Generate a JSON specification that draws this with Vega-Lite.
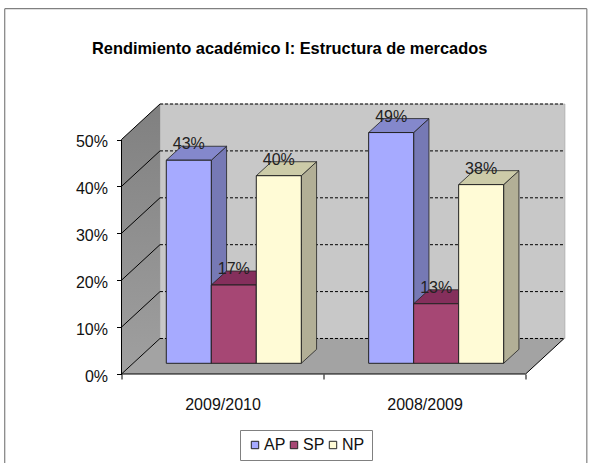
{
"$schema":"https://vega.github.io/schema/vega-lite/v6.json",
"width":443.5,"height":270,
"autosize":"none",
"padding":{"left":121.5,"top":104,"right":29,"bottom":89},
"background":"white",
"config":{"font":"Liberation Sans","view":{"stroke":null}},
"title":{"text":"Rendimiento académico I: Estructura de mercados","anchor":"start","frame":"group","dx":-29.5,"offset":-49,"fontSize":16.4,"fontWeight":"bold","color":"black","font":"Liberation Sans"},
"datasets":{
"bars":[
{"year":"2009/2010","series":"AP","value":43.3},
{"year":"2009/2010","series":"SP","value":16.7},
{"year":"2009/2010","series":"NP","value":40.0},
{"year":"2008/2009","series":"AP","value":49.2},
{"year":"2008/2009","series":"SP","value":12.7},
{"year":"2008/2009","series":"NP","value":38.1}
],
"ticks":[{"v":0},{"v":10},{"v":20},{"v":30},{"v":40},{"v":50}],
"depth":[{"k":0},{"k":1}],
"one":[{"o":1}]
},
"resolve":{"scale":{"color":"independent"},"axis":{"x":"independent","y":"independent"}},
"layer":[
{"data":{"name":"one"},"mark":{"type":"rect","color":"#C8C8C8","stroke":"#999999","strokeWidth":0.5},
"encoding":{
"x":{"datum":0.1905,"type":"quantitative","scale":{"domain":[0,2.195]},"axis":{"values":[0,0.5,1,1.5,2],"title":null,"grid":false,"domain":false,"tickSize":5,"tickColor":"black","tickOpacity":{"condition":{"test":"datum.value%1==0","value":1},"value":0},"labelExpr":"datum.value==0.5?'2009/2010':(datum.value==1.5?'2008/2009':'')","labelFontSize":16,"labelColor":"#111111","labelPadding":17,"labelOverlap":false,"labelFlush":false,"labelBound":false}},
"x2":{"datum":2.195},
"y":{"datum":7.57,"type":"quantitative","scale":{"domain":[0,57.57]},"axis":{"values":[0,10,20,30,40,50],"title":null,"grid":false,"domain":false,"tickSize":5,"tickColor":"black","labelExpr":"datum.value+'%'","labelFontSize":16,"labelColor":"#111111","labelPadding":9,"labelOffset":2,"labelOverlap":false,"labelBound":false,"labelFlush":false}},
"y2":{"datum":57.57}}},
{"data":{"name":"depth"},"transform":[{"calculate":"datum.k*0.1905","as":"x"},{"calculate":"datum.k*7.57","as":"y"},{"calculate":"datum.y+50","as":"y2"}],
"mark":{"type":"area","orient":"vertical","color":{"gradient":"linear","x1":0,"y1":0,"x2":0,"y2":1,"stops":[{"offset":0,"color":"#808080"},{"offset":1,"color":"#A0A0A0"}]}},
"encoding":{"x":{"field":"x","type":"quantitative","scale":{"domain":[0,2.195]},"axis":null},"y":{"field":"y","type":"quantitative","scale":{"domain":[0,57.57]},"axis":null,"stack":null},"y2":{"field":"y2"}}},
{"data":{"name":"depth"},"transform":[{"calculate":"datum.k*0.1905","as":"x"},{"calculate":"datum.x+2","as":"x2"},{"calculate":"datum.k*7.57","as":"y"}],
"mark":{"type":"area","orient":"horizontal","color":"#A3A3A3"},
"encoding":{"x":{"field":"x","type":"quantitative","scale":{"domain":[0,2.195]},"axis":null,"stack":null},"x2":{"field":"x2"},"y":{"field":"y","type":"quantitative","scale":{"domain":[0,57.57]},"axis":null}}},
{"data":{"name":"ticks"},"transform":[{"calculate":"datum.v+7.57","as":"yb"}],
"mark":{"type":"rule","color":"black","strokeWidth":1,"strokeDash":[3,2]},
"encoding":{"x":{"datum":0.1905,"type":"quantitative","scale":{"domain":[0,2.195]},"axis":null},"x2":{"datum":2.195},"y":{"field":"yb","type":"quantitative","scale":{"domain":[0,57.57]},"axis":null}}},
{"data":{"name":"ticks"},"transform":[{"calculate":"datum.v+7.57","as":"yb"}],
"mark":{"type":"rule","color":"black","strokeWidth":1},
"encoding":{"x":{"datum":0,"type":"quantitative","scale":{"domain":[0,2.195]},"axis":null},"x2":{"datum":0.1905},"y":{"field":"v","type":"quantitative","scale":{"domain":[0,57.57]},"axis":null},"y2":{"field":"yb"}}},
{"data":{"name":"one"},"mark":{"type":"rule","color":"black","strokeWidth":1},
"encoding":{"x":{"datum":0,"type":"quantitative","scale":{"domain":[0,2.195]},"axis":null},"y":{"datum":0,"type":"quantitative","scale":{"domain":[0,57.57]},"axis":null},"y2":{"datum":50}}},
{"data":{"name":"one"},"mark":{"type":"rule","color":"black","strokeWidth":1},
"encoding":{"x":{"datum":0,"type":"quantitative","scale":{"domain":[0,2.195]},"axis":null},"x2":{"datum":2},"y":{"datum":0,"type":"quantitative","scale":{"domain":[0,57.57]},"axis":null}}},
{"data":{"name":"one"},"mark":{"type":"rule","color":"black","strokeWidth":1},
"encoding":{"x":{"datum":2,"type":"quantitative","scale":{"domain":[0,2.195]},"axis":null},"x2":{"datum":2.1905},"y":{"datum":0,"type":"quantitative","scale":{"domain":[0,57.57]},"axis":null},"y2":{"datum":7.57}}},
{"data":{"name":"one"},"mark":{"type":"rule","color":"#808080","strokeWidth":1.2},
"encoding":{"x":{"datum":-0.578,"type":"quantitative","scale":{"domain":[0,2.195]},"axis":null},"y":{"datum":-19,"type":"quantitative","scale":{"domain":[0,57.57]},"axis":null},"y2":{"datum":77.9}}},
{"data":{"name":"one"},"mark":{"type":"rule","color":"#808080","strokeWidth":1.2},
"encoding":{"x":{"datum":-0.578,"type":"quantitative","scale":{"domain":[0,2.195]},"axis":null},"x2":{"datum":2.303},"y":{"datum":77.9,"type":"quantitative","scale":{"domain":[0,57.57]},"axis":null}}},
{"data":{"name":"one"},"mark":{"type":"rule","color":"#808080","strokeWidth":1.2},
"encoding":{"x":{"datum":2.303,"type":"quantitative","scale":{"domain":[0,2.195]},"axis":null},"y":{"datum":-19,"type":"quantitative","scale":{"domain":[0,57.57]},"axis":null},"y2":{"datum":77.9}}},
{"data":{"name":"bars"},
"transform":[
{"calculate":"(datum.year=='2009/2010'?0.2217:1.2232)+indexof(['AP','SP','NP'],datum.series)*0.2227","as":"x0"},
{"calculate":"datum.x0+0.2227","as":"x1"},
{"calculate":"datum.value+2.28","as":"top"},
{"calculate":"(datum.x0+datum.x1)/2","as":"xc"},
{"calculate":"format(datum.value,'.0f')+'%'","as":"label"}
],
"resolve":{"scale":{"color":"independent"}},
"layer":[
{"transform":[{"calculate":"[0,1]","as":"k"},{"flatten":["k"]},{"calculate":"datum.x1+datum.k*0.0757","as":"sx"},{"calculate":"2.28+datum.k*2.98","as":"sy"},{"calculate":"datum.top+datum.k*2.98","as":"sy2"}],
"mark":{"type":"area","orient":"vertical","stroke":"#222222","strokeWidth":0.8},
"encoding":{"x":{"field":"sx","type":"quantitative","scale":{"domain":[0,2.195]},"axis":null},"y":{"field":"sy","type":"quantitative","scale":{"domain":[0,57.57]},"axis":null,"stack":null},"y2":{"field":"sy2"},
"detail":[{"field":"year"}],
"color":{"field":"series","type":"nominal","scale":{"domain":["AP","SP","NP"],"range":["#7679B5","#762F52","#B2AF96"]},"legend":null}}},
{"transform":[{"calculate":"[0,1]","as":"k"},{"flatten":["k"]},{"calculate":"datum.x0+datum.k*0.0757","as":"tx"},{"calculate":"datum.x1+datum.k*0.0757","as":"tx2"},{"calculate":"datum.top+datum.k*2.98","as":"ty"}],
"mark":{"type":"area","orient":"horizontal","stroke":"#222222","strokeWidth":0.8},
"encoding":{"x":{"field":"tx","type":"quantitative","scale":{"domain":[0,2.195]},"axis":null,"stack":null},"x2":{"field":"tx2"},"y":{"field":"ty","type":"quantitative","scale":{"domain":[0,57.57]},"axis":null},
"detail":[{"field":"year"}],
"color":{"field":"series","type":"nominal","scale":{"domain":["AP","SP","NP"],"range":["#8488CC","#852F5C","#CCCBA8"]},"legend":null}}},
{"mark":{"type":"rect","stroke":"#222222","strokeWidth":1},
"encoding":{"x":{"field":"x0","type":"quantitative","scale":{"domain":[0,2.195]},"axis":null},"x2":{"field":"x1"},"y":{"field":"top","type":"quantitative","scale":{"domain":[0,57.57]},"axis":null},"y2":{"datum":2.28},
"color":{"field":"series","type":"nominal","scale":{"domain":["AP","SP","NP"],"range":["#A6AAFF","#A64774","#FFFBD6"]},
"legend":{"title":null,"orient":"none","legendX":118.5,"legendY":326,"direction":"horizontal","fillColor":"white","strokeColor":"#808080","padding":7,"symbolType":"square","symbolSize":55,"symbolStrokeColor":"#222222","symbolStrokeWidth":1,"labelFontSize":16,"labelColor":"#111111","labelOffset":1,"columnPadding":-2,"symbolOpacity":1}}}},
{"mark":{"type":"text","align":"center","baseline":"alphabetic","dy":-11,"fontSize":16,"color":"#222222"},
"encoding":{"x":{"field":"xc","type":"quantitative","scale":{"domain":[0,2.195]},"axis":null},"y":{"field":"top","type":"quantitative","scale":{"domain":[0,57.57]},"axis":null},"text":{"field":"label"}}}
]}
]
}
